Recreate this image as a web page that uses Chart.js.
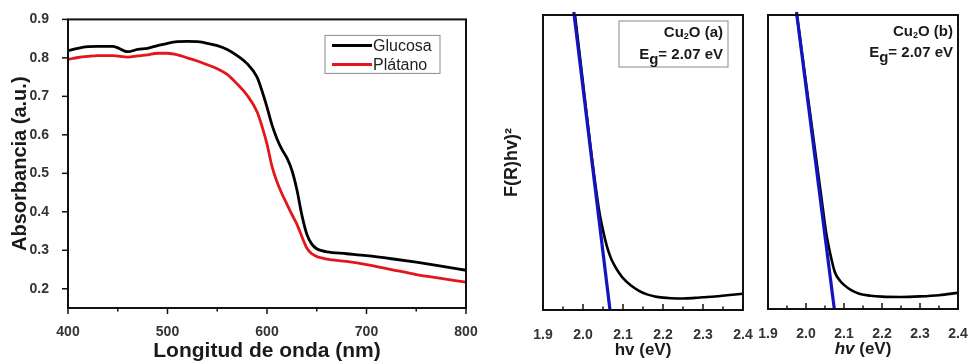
<!DOCTYPE html>
<html lang="es">
  <head>
    <meta charset="UTF-8" />
    <title>Absorbancia y Tauc Cu2O</title>
    <style>
      body {
        margin: 0;
        background: #ffffff;
      }
      .panel {
        position: absolute;
        top: 0;
      }
      #absBox { left: 0; }
      #taucABox { left: 460px; }
      #taucBBox { left: 750px; }
    </style>
  </head>
  <body>
    <div class="panel" id="absBox"><canvas id="absChart" width="480" height="362"></canvas></div>
    <div class="panel" id="taucABox"><canvas id="taucAChart" width="295" height="362"></canvas></div>
    <div class="panel" id="taucBBox"><canvas id="taucBChart" width="218" height="362"></canvas></div>

    <script src="https://cdn.jsdelivr.net/npm/chart.js"></script>
    <script>
      // --- absorbance spectra ---
      const wavelength = [400, 410, 420, 430, 445, 460, 470, 480, 490, 500, 510, 520, 530, 540, 550, 560, 570, 580, 590, 595, 600, 605, 610, 615, 620, 625, 630, 635, 640, 645, 650, 655, 660, 680, 700, 725, 750, 775, 800];
      const glucosa = [0.819, 0.825, 0.829, 0.830, 0.830, 0.816, 0.822, 0.825, 0.832, 0.838, 0.842, 0.843, 0.842, 0.838, 0.832, 0.822, 0.806, 0.785, 0.75, 0.714, 0.672, 0.626, 0.59, 0.562, 0.54, 0.508, 0.458, 0.392, 0.342, 0.316, 0.304, 0.299, 0.296, 0.291, 0.286, 0.278, 0.269, 0.259, 0.248];
      const platano = [0.796, 0.801, 0.804, 0.806, 0.806, 0.802, 0.805, 0.808, 0.812, 0.812, 0.808, 0.80, 0.792, 0.782, 0.772, 0.757, 0.732, 0.703, 0.66, 0.622, 0.576, 0.518, 0.478, 0.447, 0.42, 0.393, 0.368, 0.336, 0.306, 0.291, 0.284, 0.280, 0.277, 0.271, 0.263, 0.250, 0.237, 0.227, 0.217];
      const absXTicks = [400, 500, 600, 700, 800];
      const absXMinor = [450, 550, 650, 750];
      const absYTicks = [0.2, 0.3, 0.4, 0.5, 0.6, 0.7, 0.8, 0.9];

      // --- Tauc plots ---
      const hvA = [1.98, 2.0, 2.02, 2.04, 2.05, 2.06, 2.07, 2.08, 2.09, 2.1, 2.12, 2.14, 2.16, 2.18, 2.2, 2.22, 2.25, 2.28, 2.3, 2.33, 2.36, 2.4];
      const tauA = [100, 77, 54, 34, 27, 21.5, 17.5, 14.8, 12.6, 10.8, 8.3, 6.5, 5.3, 4.6, 4.2, 4.0, 3.9, 4.1, 4.3, 4.6, 5.0, 5.5];
      const fitA = [{ x: 1.977, y: 101 }, { x: 2.0675, y: 0 }];

      const hvB = [1.976, 2.0, 2.02, 2.04, 2.053, 2.063, 2.076, 2.09, 2.1, 2.12, 2.14, 2.17, 2.2, 2.25, 2.3, 2.35, 2.4];
      const tauB = [100, 77, 57.7, 38.5, 26, 19.3, 12.5, 9.5, 8.2, 6.3, 5.2, 4.5, 4.2, 4.1, 4.3, 4.7, 5.5];
      const fitB = [{ x: 1.975, y: 101 }, { x: 2.0745, y: 0 }];

      const hvTicks = [1.9, 2.0, 2.1, 2.2, 2.3, 2.4];
      const hvMinor = [1.95, 2.05, 2.15, 2.25, 2.35];

      const FAMILY = "'Liberation Sans', Arial, sans-serif";
      Chart.defaults.font.family = FAMILY;
      Chart.defaults.animation = false;

      const pairs = (xs, ys) => xs.map((x, i) => ({ x: x, y: ys[i] }));

      // text with sub/italic parts
      function drawRich(ctx, parts, x, y, align) {
        let w = 0;
        const fontOf = (p) => (p.italic ? "italic " : "") + "bold " + p.size + "px " + FAMILY;
        parts.forEach((p) => {
          ctx.font = fontOf(p);
          p.w = ctx.measureText(p.t).width;
          w += p.w;
        });
        let cx = align === "right" ? x - w : align === "center" ? x - w / 2 : x;
        ctx.textAlign = "left";
        ctx.textBaseline = "middle";
        parts.forEach((p) => {
          ctx.font = fontOf(p);
          ctx.fillText(p.t, cx, y + (p.dy || 0));
          cx += p.w;
        });
      }

      // frame, ticks, legend & labels
      const decor = {
        id: "decor",
        afterDatasetsDraw(chart, args, o) {
          const { ctx, chartArea: a, scales } = chart;
          const xs = scales.x, ys = scales.y;
          const dir = o.tickDir === "in" ? -1 : 1;
          ctx.save();
          ctx.strokeStyle = "#111";
          ctx.lineWidth = 2;
          ctx.strokeRect(a.left, a.top, a.right - a.left, a.bottom - a.top);

          const line = (x1, y1, x2, y2) => {
            ctx.beginPath();
            ctx.moveTo(x1, y1);
            ctx.lineTo(x2, y2);
            ctx.stroke();
          };
          ctx.lineWidth = 1.5;
          xs.ticks.forEach((t) => {
            const px = xs.getPixelForValue(t.value);
            line(px, a.bottom, px, a.bottom + dir * 6);
          });
          (o.xMinor || []).forEach((v) => {
            const px = xs.getPixelForValue(v);
            line(px, a.bottom, px, a.bottom + dir * 3.5);
          });
          if (o.yTicks) {
            ys.ticks.forEach((t) => {
              const py = ys.getPixelForValue(t.value);
              line(a.left, py, a.left - dir * 6, py);
            });
          }

          if (o.legend) {
            const L = o.legend;
            const bx = a.right - L.right, by = a.top + L.top;
            ctx.strokeStyle = "#8a8a8a";
            ctx.lineWidth = 1;
            ctx.strokeRect(bx, by, L.w, L.h);
            chart.data.datasets.forEach((ds, i) => {
              const ly = by + L.first + i * L.step;
              ctx.strokeStyle = ds.borderColor;
              ctx.lineWidth = 3;
              line(bx + 7, ly, bx + 47, ly);
              ctx.fillStyle = "#222";
              ctx.font = "16px " + FAMILY;
              ctx.textAlign = "left";
              ctx.textBaseline = "middle";
              ctx.fillText(ds.label, bx + 48, ly + 1);
            });
          }

          if (o.note) {
            const N = o.note;
            if (N.box) {
              ctx.strokeStyle = "#8a8a8a";
              ctx.lineWidth = 1;
              ctx.strokeRect(a.right - N.box.right, a.top + N.box.top, N.box.w, N.box.h);
            }
            ctx.fillStyle = "#1a1a1a";
            const tx = a.right - N.right;
            drawRich(ctx, [
              { t: "Cu", size: 15 },
              { t: "2", size: 9, dy: 4 },
              { t: "O (" + N.tag + ")", size: 15 }
            ], tx, a.top + N.y1, "right");
            drawRich(ctx, [
              { t: "E", size: 15 },
              { t: "g", size: 15, dy: 5 },
              { t: "= 2.07 eV", size: 15 }
            ], tx, a.top + N.y2, "right");
          }

          if (o.xTitle) {
            ctx.fillStyle = "#1a1a1a";
            drawRich(ctx, o.xTitle, (a.left + a.right) / 2, a.bottom + 40, "center");
          }
          ctx.restore();
        }
      };

      const tickFont = { size: 14, weight: "bold" };
      const noSidePad = (s) => { s.paddingLeft = 0; s.paddingRight = 0; };

      // Absorbance chart
      new Chart(document.getElementById("absChart"), {
        type: "line",
        data: {
          datasets: [
            { label: "Glucosa", data: pairs(wavelength, glucosa), borderColor: "#000000", borderWidth: 2.8 },
            { label: "Plátano", data: pairs(wavelength, platano), borderColor: "#e3161b", borderWidth: 2.8 }
          ]
        },
        options: {
          responsive: false,
          parsing: false,
          elements: { point: { radius: 0 }, line: { cubicInterpolationMode: "monotone" } },
          layout: { padding: { top: 17, right: 14, left: 0, bottom: 0 } },
          plugins: {
            legend: { display: false },
            tooltip: { enabled: false },
            decor: {
              tickDir: "out",
              yTicks: true,
              xMinor: absXMinor,
              legend: { right: 141, top: 16, w: 115, h: 38, first: 10, step: 19 }
            }
          },
          scales: {
            x: {
              type: "linear",
              min: 400,
              max: 800,
              afterBuildTicks: (s) => { s.ticks = absXTicks.map((v) => ({ value: v })); },
              afterFit: (s) => { s.height = 54; noSidePad(s); },
              grid: { display: false },
              border: { display: false },
              ticks: { font: tickFont, color: "#333", padding: 8, maxRotation: 0, autoSkip: false },
              title: { display: true, text: "Longitud de onda (nm)", color: "#1a1a1a", font: { size: 21, weight: "bold" }, padding: { top: 0, bottom: -2 } }
            },
            y: {
              min: 0.15,
              max: 0.9,
              afterBuildTicks: (s) => { s.ticks = absYTicks.map((v) => ({ value: v })); },
              afterFit: (s) => { s.width = 68; },
              grid: { display: false },
              border: { display: false },
              ticks: { font: tickFont, color: "#333", padding: 11, callback: (v) => v.toFixed(1) },
              title: { display: true, text: "Absorbancia (a.u.)", color: "#1a1a1a", font: { size: 20, weight: "bold" }, padding: { top: 8, bottom: 0 } }
            }
          }
        },
        plugins: [decor]
      });

      function taucChart(id, hv, tau, fit, cfg) {
        return new Chart(document.getElementById(id), {
          type: "line",
          data: {
            datasets: [
              { label: "Cu2O", data: pairs(hv, tau), borderColor: "#000000", borderWidth: 2.6, order: 2 },
              { label: "ajuste", data: fit, borderColor: "#1414bf", borderWidth: 3.2, clip: false, order: 1 }
            ]
          },
          options: {
            responsive: false,
            parsing: false,
            elements: { point: { radius: 0 }, line: { cubicInterpolationMode: "monotone" } },
            layout: { padding: cfg.padding },
            plugins: {
              legend: { display: false },
              tooltip: { enabled: false },
              decor: { tickDir: "in", xMinor: hvMinor, note: cfg.note, xTitle: cfg.xTitle }
            },
            scales: {
              x: {
                type: "linear",
                min: 1.9,
                max: 2.4,
                afterBuildTicks: (s) => { s.ticks = hvTicks.map((v) => ({ value: v })); },
                afterFit: (s) => { s.height = cfg.xHeight; noSidePad(s); },
                grid: { display: false },
                border: { display: false },
                ticks: { font: tickFont, color: "#333", padding: 9, maxRotation: 0, autoSkip: false, callback: (v) => v.toFixed(1) }
              },
              y: {
                display: cfg.yTitle ? true : false,
                min: 0,
                max: 100,
                afterFit: (s) => { s.width = cfg.yWidth; },
                grid: { display: false },
                border: { display: false },
                ticks: { display: false },
                title: { display: !!cfg.yTitle, text: cfg.yTitle, color: "#1a1a1a", font: { size: 18, weight: "bold" }, padding: { top: 41, bottom: 0 } }
              }
            }
          },
          plugins: [decor]
        });
      }

      taucChart("taucAChart", hvA, tauA, fitA, {
        padding: { top: 15, right: 12, left: 0, bottom: 0 },
        xHeight: 52,
        yWidth: 83,
        yTitle: "F(R)hv)²",
        note: { tag: "a", right: 20, y1: 18, y2: 40, box: { right: 124, top: 6, w: 109, h: 46 } },
        xTitle: [{ t: "hv (eV)", size: 17 }]
      });

      taucChart("taucBChart", hvB, tauB, fitB, {
        padding: { top: 15, right: 10, left: 18, bottom: 0 },
        xHeight: 53,
        yWidth: 0,
        yTitle: null,
        note: { tag: "b", right: 5, y1: 17, y2: 38 },
        xTitle: [{ t: "hv", size: 17, italic: true }, { t: " (eV)", size: 17 }]
      });
    </script>
  </body>
</html>
